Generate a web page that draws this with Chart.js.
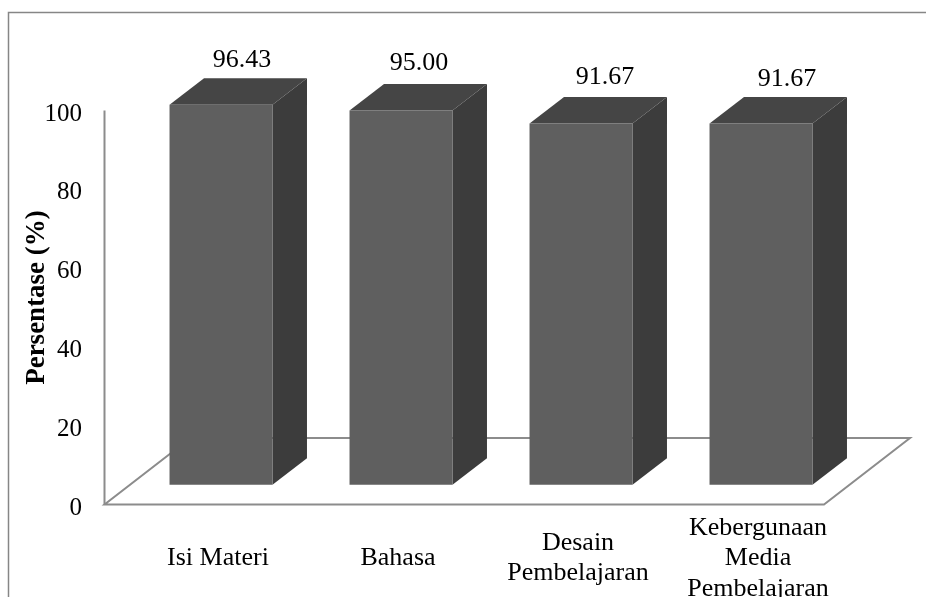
<!DOCTYPE html>
<html>
<head>
<meta charset="utf-8">
<style>
  html, body { margin: 0; padding: 0; background: #fff; overflow: hidden; }
  #wrap { width: 926px; height: 597px; position: relative; }
</style>
<script src="https://cdn.jsdelivr.net/npm/chart.js@4/dist/chart.umd.min.js"></script>
</head>
<body>
<div id="wrap"><canvas id="chart" width="926" height="597"></canvas></div>
<script>
const categories = ['Isi Materi', 'Bahasa', ['Desain', 'Pembelajaran'], ['Kebergunaan', 'Media', 'Pembelajaran']]
const percentages = [96.43, 95.00, 91.67, 91.67]
const valueTicks = [0, 20, 40, 60, 80, 100]
const yTitle = 'Persentase (%)'

const serif = '"Liberation Serif", "Times New Roman", serif'
const axisGrey = '#8c8c8c'

// fake 3D box look: extrude each bar backwards and sit it on a floor
const box3d = {
  id: 'box3d',
  beforeDatasetsDraw(chart, args, opts) {
    const { ctx, scales: { y } } = chart
    const floorY = y.getPixelForValue(0) - opts.floorLift
    const axisTop = y.getPixelForValue(100) - opts.floorLift
    const axisX = chart.chartArea.left - opts.axisGap
    const [floorDx, floorDy] = opts.floorDepth

    // chart frame, left and top only, the rest runs off the canvas
    ctx.save()
    ctx.strokeStyle = opts.frameColor
    ctx.lineWidth = 1.5
    ctx.beginPath()
    ctx.moveTo(8.5, 597)
    ctx.lineTo(8.5, 12.5)
    ctx.lineTo(926, 12.5)
    ctx.stroke()

    // value axis
    ctx.strokeStyle = axisGrey
    ctx.lineWidth = 2
    ctx.beginPath()
    ctx.moveTo(axisX, axisTop)
    ctx.lineTo(axisX, floorY)
    ctx.stroke()

    // floor
    ctx.beginPath()
    ctx.moveTo(axisX, floorY)
    ctx.lineTo(axisX + opts.floorWidth, floorY)
    ctx.lineTo(axisX + opts.floorWidth + floorDx, floorY + floorDy)
    ctx.lineTo(axisX + floorDx, floorY + floorDy)
    ctx.closePath()
    ctx.stroke()

    const [dx, dy] = opts.shift
    const [depthX, depthY] = opts.depth
    chart.getDatasetMeta(0).data.forEach(bar => {
      const left = bar.x - bar.width / 2 + dx
      const right = bar.x + bar.width / 2 + dx
      const top = bar.y + dy
      const bottom = bar.base + dy

      ctx.fillStyle = opts.sideColor
      ctx.beginPath()
      ctx.moveTo(right, top)
      ctx.lineTo(right + depthX, top + depthY)
      ctx.lineTo(right + depthX, bottom + depthY)
      ctx.lineTo(right, bottom)
      ctx.closePath()
      ctx.fill()

      ctx.fillStyle = opts.topColor
      ctx.beginPath()
      ctx.moveTo(left, top)
      ctx.lineTo(left + depthX, top + depthY)
      ctx.lineTo(right + depthX, top + depthY)
      ctx.lineTo(right, top)
      ctx.closePath()
      ctx.fill()
    })
    ctx.restore()

    // front faces are drawn by the library, moved onto the middle of the floor
    ctx.save()
    ctx.translate(dx, dy)
  },
  afterDatasetsDraw(chart, args, opts) {
    const { ctx } = chart
    ctx.restore()

    const [dx, dy] = opts.shift
    ctx.save()
    ctx.fillStyle = '#000'
    ctx.textAlign = 'center'
    ctx.textBaseline = 'middle'

    // value labels above each box
    ctx.font = '26px ' + serif
    chart.getDatasetMeta(0).data.forEach((bar, i) => {
      const [nudgeX, nudgeY] = opts.labelNudge[i]
      ctx.fillText(percentages[i].toFixed(2), bar.x + dx + nudgeX, bar.y + dy + nudgeY)
    })

    // axis title
    ctx.translate(opts.titleAt[0], opts.titleAt[1])
    ctx.rotate(-Math.PI / 2)
    ctx.font = 'bold 27px ' + serif
    ctx.fillText(yTitle, 0, 0)
    ctx.restore()
  }
}

new Chart(document.getElementById('chart'), {
  type: 'bar',
  data: {
    labels: categories,
    datasets: [{
      data: percentages,
      backgroundColor: '#5f5f5f',
      barPercentage: 0.572,
      categoryPercentage: 1,
      clip: false
    }]
  },
  plugins: [box3d],
  options: {
    responsive: false,
    animation: false,
    layout: { padding: { top: 114, right: 78, bottom: 0, left: 0 } },
    plugins: {
      legend: { display: false },
      tooltip: { enabled: false },
      box3d: {
        shift: [3, -23.2],
        depth: [34.5, -26.5],
        axisGap: 23.5,
        floorLift: 3.5,
        floorWidth: 719.5,
        floorDepth: [86, -66.5],
        labelNudge: [[21, -45], [18, -47], [24, -46], [26, -44]],
        titleAt: [37, 297.5],
        frameColor: '#868686',
        sideColor: '#3c3c3c',
        topColor: '#454545'
      }
    },
    scales: {
      x: {
        grid: { display: false, drawTicks: false },
        border: { display: false },
        afterFit(scale) { scale.height = 89 },
        ticks: {
          color: '#000',
          font: { family: serif, size: 26, lineHeight: 1.17 },
          padding: 20,
          crossAlign: 'center',
          maxRotation: 0,
          autoSkip: false
        }
      },
      y: {
        min: 0,
        max: 100,
        grid: { display: false, drawTicks: false },
        border: { display: false },
        afterFit(scale) { scale.width = 128 },
        afterBuildTicks(scale) { scale.ticks = valueTicks.map(value => ({ value })) },
        ticks: {
          color: '#000',
          font: { family: serif, size: 25 },
          padding: 46
        }
      }
    }
  }
})
</script>
</body>
</html>
